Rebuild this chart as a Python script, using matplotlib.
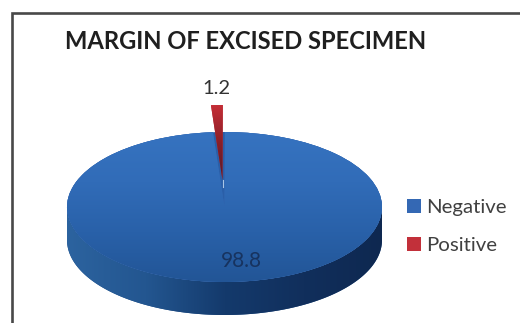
#!/usr/bin/python3
#
# 3D-style pie chart of excised specimen margins.

import numpy as np
import matplotlib
matplotlib.use("Agg")
import matplotlib.pyplot as plt
from matplotlib.colors import LinearSegmentedColormap
from matplotlib.lines import Line2D
from matplotlib.patches import Polygon

TITLE = "MARGIN OF EXCISED SPECIMEN"
CATEGORIES = ["Negative", "Positive"]
VALUES = [98.8, 1.2]

W, H = 520, 323
CX, CY = 224.5, 207.0   # centre of the top face, pixels
RX, RY = 157.5, 75.0    # half axes of the top face, pixels
DEPTH = 33.0 / RY


def gradient(ax, clip, colors, extent, horizontal=False, zorder=2):
    # fill a patch with a linear colour ramp
    cmap = LinearSegmentedColormap.from_list("ramp", colors)
    ramp = np.linspace(0, 1, 256)
    ramp = ramp.reshape(1, -1) if horizontal else ramp.reshape(-1, 1)
    im = ax.imshow(ramp, cmap=cmap, extent=extent, origin="upper", aspect="auto",
                   zorder=zorder, interpolation="bilinear")
    im.set_clip_path(clip)
    return im


plt.rcParams["font.family"] = ["Lato", "DejaVu Sans"]

fig = plt.figure(figsize=(W / 100, H / 100), dpi=100, facecolor="white")
ax = fig.add_axes([0, 0, 1, 1])

wedges, _ = ax.pie(VALUES, colors=["#3468b4", "#c2303a"], explode=[0, 0.36],
                   startangle=94.2, radius=1.0, wedgeprops={"linewidth": 0})
neg, pos = wedges
neg.set_zorder(1.5)
pos.set_zorder(4)

# rim below the front half of the disc
t = np.linspace(np.pi, 2 * np.pi, 200)
rim = np.column_stack([
    np.r_[np.cos(t), np.cos(t[::-1])],
    np.r_[np.sin(t) - DEPTH, np.sin(t[::-1])],
])
side = Polygon(rim, closed=True, facecolor="#1a4a85", linewidth=0, zorder=1)
ax.add_patch(side)
gradient(ax, side, ["#2c639f", "#235690", "#143a6c", "#112f5c", "#0e2850"],
         [-1, 1, -1 - DEPTH, 1], horizontal=True, zorder=1.1)

# disc under the top face so the notch behind the red slice stays blue
base = plt.Circle((0, 0), 1.0, facecolor="#2a5fa8", linewidth=0, zorder=1.4)
ax.add_patch(base)

gradient(ax, neg, ["#3673c0", "#316cb8", "#2961a9", "#225596"],
         [-1, 1, -1, 1], zorder=2)
gradient(ax, pos, ["#cc3038", "#8c1f28", "#4e1a2a"],
         [-0.1, 0.05, 0.3, 1.42], zorder=4.1)

# thin highlight running on from the tip of the red slice
tip = 0.36 * np.sin(np.deg2rad(92.04))
ax.plot([-0.012, -0.012], [tip, tip - 0.09], color="#a9c6e6", lw=0.8, zorder=5)

ax.set_aspect("auto")
ax.set_xlim(-CX / RX, (W - CX) / RX)
ax.set_ylim((CY - H) / RY, CY / RY)
ax.axis("off")

ax.text(65 / W, 1 - 41.5 / H, TITLE, transform=ax.transAxes, fontsize=17.1,
        fontweight="bold", color="#1f1f1f", ha="left", va="center", zorder=6)

# values as data labels
ax.text((216.5 - CX) / RX, (CY - 89) / RY, f"{VALUES[1]:.1f}", fontsize=14.5,
        color="#333333", ha="center", va="center", zorder=6)
ax.text((241 - CX) / RX, (CY - 261) / RY, f"{VALUES[0]:.1f}", fontsize=15,
        color="#17335f", ha="center", va="center", zorder=6)

leg = ax.legend(wedges, CATEGORIES, loc="center left", bbox_to_anchor=(407 / W, 1 - 226.5 / H),
                bbox_transform=fig.transFigure, frameon=False, fontsize=14.7,
                borderpad=0, borderaxespad=0, handlelength=0.68, handleheight=0.68,
                handletextpad=0.25, labelspacing=1.03)
for text in leg.get_texts():
    text.set_color("#404040")

# chart frame, open on the right and at the bottom
frame = Line2D([11.5 / W, 11.5 / W, 1], [0, 1 - 13 / H, 1 - 13 / H], transform=fig.transFigure,
               color="#484848", lw=1.9, solid_joinstyle="miter")
fig.add_artist(frame)

fig.savefig("out.png", dpi=100, facecolor="white")
